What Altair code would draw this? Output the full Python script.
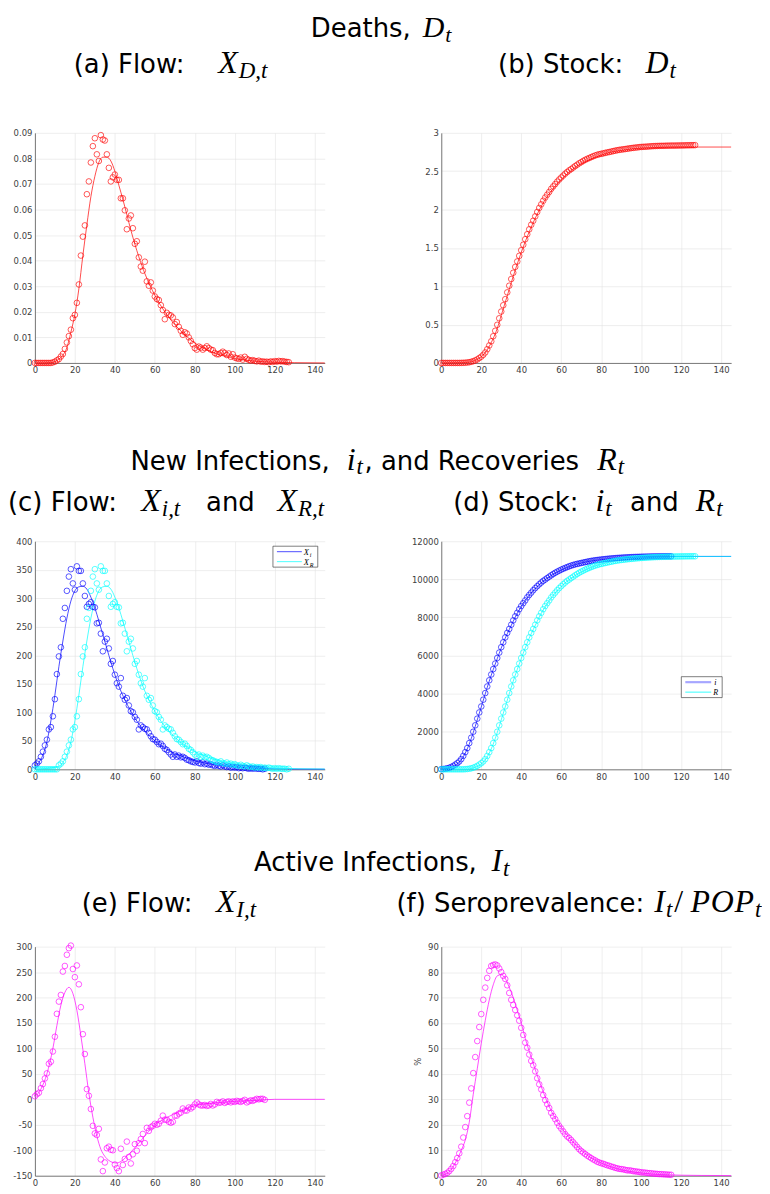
import altair as alt
import pandas as pd

# ---------------- data ----------------
# (a) deaths flow X_D,t  (days 0..127)
death_flow = [0, 0, 0, 0, 0, 0, 0, 0, 0, 0.0002,
              0.0005, 0.001, 0.0015, 0.0025, 0.0035, 0.0055, 0.008, 0.0105, 0.013, 0.0175,
              0.0188, 0.0235, 0.0307, 0.042, 0.0494, 0.0538, 0.066, 0.071, 0.0784, 0.0848,
              0.0879, 0.0816, 0.079, 0.0891, 0.0874, 0.087, 0.0816, 0.0763, 0.071, 0.0726,
              0.0737, 0.0716, 0.0716, 0.0644, 0.0644, 0.0597, 0.0523, 0.0565, 0.0577, 0.0527,
              0.0466, 0.0476, 0.0413, 0.0377, 0.0361, 0.0396, 0.0319, 0.0302, 0.0315, 0.0283,
              0.026, 0.025, 0.0246, 0.0226, 0.0207, 0.0171, 0.0196, 0.0188, 0.0186, 0.0178,
              0.0152, 0.016, 0.0141, 0.0126, 0.011, 0.012, 0.0115, 0.01, 0.0086, 0.0073,
              0.0058, 0.0052, 0.0064, 0.006, 0.0052, 0.0058, 0.0065, 0.0058, 0.0052, 0.005,
              0.0039, 0.0034, 0.0034, 0.0039, 0.0044, 0.0039, 0.0031, 0.0037, 0.0024, 0.0034,
              0.0021, 0.0018, 0.0016, 0.0021, 0.0013, 0.0024, 0.0016, 0.0012, 0.0009, 0.0011,
              0.0008, 0.0006, 0.0009, 0.0005, 0.0006, 0.0004, 0.0005, 0.0003, 0.0006, 0.0004,
              0.0007, 0.0005, 0.0008, 0.0006, 0.0007, 0.0005, 0.0004, 0.0003]
death_fit_days = [0, 5, 8, 10, 12, 14, 16, 18, 20, 22, 24, 26, 28, 30, 32, 34, 36, 38, 40, 42,
                  44, 46, 48, 50, 52, 55, 60, 65, 70, 75, 80, 85, 90, 95, 100, 110, 120, 130, 145]
death_fit = [0, 0, 0.0001, 0.0005, 0.0015, 0.003, 0.006, 0.012, 0.019, 0.029, 0.042, 0.054,
             0.065, 0.073, 0.0785, 0.0805, 0.0805, 0.079, 0.075, 0.0695, 0.064, 0.058, 0.052,
             0.0465, 0.0415, 0.035, 0.0265, 0.020, 0.015, 0.011, 0.0078, 0.0055, 0.0038,
             0.0026, 0.0017, 0.0007, 0.0003, 0.0001, 0]

# (b) deaths stock D_t (days 0..127)
death_stock = [0, 0, 0, 0, 0, 0, 0, 0, 0, 0.000,
               0.001, 0.002, 0.003, 0.006, 0.009, 0.015, 0.023, 0.033, 0.046, 0.064,
               0.082, 0.106, 0.137, 0.179, 0.228, 0.282, 0.348, 0.419, 0.497, 0.582,
               0.670, 0.752, 0.831, 0.920, 1.007, 1.094, 1.176, 1.252, 1.323, 1.396,
               1.470, 1.541, 1.613, 1.678, 1.742, 1.802, 1.854, 1.911, 1.968, 2.021,
               2.068, 2.115, 2.157, 2.194, 2.230, 2.270, 2.302, 2.332, 2.364, 2.392,
               2.418, 2.443, 2.468, 2.490, 2.511, 2.528, 2.548, 2.567, 2.585, 2.603,
               2.618, 2.634, 2.648, 2.661, 2.672, 2.684, 2.695, 2.705, 2.714, 2.721,
               2.727, 2.732, 2.739, 2.745, 2.750, 2.756, 2.762, 2.768, 2.773, 2.778,
               2.782, 2.785, 2.789, 2.793, 2.797, 2.801, 2.804, 2.808, 2.810, 2.814,
               2.816, 2.818, 2.819, 2.821, 2.823, 2.825, 2.827, 2.828, 2.829, 2.830,
               2.831, 2.831, 2.832, 2.833, 2.833, 2.834, 2.834, 2.834, 2.835, 2.835,
               2.836, 2.836, 2.837, 2.838, 2.838, 2.839, 2.839, 2.840]
stock_fit_days = [0, 10, 14, 16, 18, 20, 22, 24, 26, 28, 30, 32, 34, 36, 38, 40, 42, 44, 46,
                  48, 50, 52, 55, 60, 65, 70, 75, 80, 85, 90, 95, 100, 110, 120, 145]
stock_fit = [0, 0.003, 0.010, 0.022, 0.045, 0.080, 0.135, 0.215, 0.32, 0.45, 0.62, 0.79,
             0.96, 1.13, 1.29, 1.44, 1.58, 1.71, 1.83, 1.94, 2.04, 2.13, 2.24, 2.39, 2.51,
             2.60, 2.66, 2.71, 2.75, 2.77, 2.79, 2.80, 2.81, 2.815, 2.815]

# (c) new infections flow X_i (days 0..115) and recoveries flow X_R (days 0..127)
inf_flow = [7, 10, 14, 22, 31, 42, 52, 70, 74, 93,
            123, 167, 198, 214, 264, 283, 313, 338, 351, 326,
            315, 356, 348, 348, 326, 304, 285, 290, 293, 285,
            284, 256, 257, 238, 207, 224, 229, 212, 185, 190,
            166, 151, 145, 160, 129, 122, 125, 112, 102, 100,
            92, 87, 70, 77, 74, 71, 70, 64, 58, 53,
            52, 48, 44, 45, 41, 36, 34, 30, 26, 22,
            26, 22, 24, 21, 22, 20, 17, 16, 14, 13,
            12, 14, 11, 10, 12, 9, 10, 8, 9, 7,
            6, 8, 6, 5, 7, 5, 4, 5, 3, 4,
            3, 4, 2, 3, 2, 3, 2, 1, 2, 1,
            2, 1, 1, 1, 0, 1]
rec_flow = [0, 0, 0, 0, 0, 0, 0, 0, 0, 0,
            0, 0, 7, 10, 14, 22, 31, 42, 52, 70,
            74, 93, 123, 167, 198, 214, 264, 283, 313, 338,
            351, 326, 315, 356, 348, 348, 326, 304, 285, 290,
            293, 285, 284, 256, 257, 238, 207, 224, 229, 212,
            185, 190, 166, 151, 145, 160, 129, 122, 125, 112,
            102, 100, 92, 87, 70, 77, 74, 71, 70, 64,
            58, 53, 52, 48, 44, 45, 41, 36, 34, 30,
            26, 22, 26, 22, 24, 21, 22, 20, 17, 16,
            14, 13, 12, 14, 11, 10, 12, 9, 10, 8,
            9, 7, 6, 8, 6, 5, 7, 5, 4, 5,
            3, 4, 3, 4, 2, 3, 2, 3, 2, 1,
            2, 1, 2, 1, 1, 1, 0, 1]
inf_fit_days = [0, 2, 4, 6, 8, 10, 12, 14, 16, 18, 20, 22, 24, 26, 28, 30, 32, 34, 36, 38,
                40, 42, 45, 48, 50, 55, 60, 65, 70, 75, 80, 85, 90, 95, 100, 110, 120, 130, 145]
inf_fit = [5, 12, 25, 48, 85, 130, 180, 225, 265, 295, 313, 320, 321, 316, 302, 283, 260,
           236, 212, 188, 166, 146, 122, 102, 90, 67, 50, 37, 28, 21, 15, 11, 8, 6, 4, 2,
           1, 0.5, 0.2]
rec_fit_days = [0, 12, 14, 16, 18, 20, 22, 24, 26, 28, 30, 32, 34, 36, 38, 40, 42, 44, 46,
                48, 50, 52, 54, 57, 60, 62, 67, 72, 77, 82, 87, 92, 97, 102, 107, 112, 122,
                132, 145]
rec_fit = [0, 5, 12, 25, 48, 85, 130, 180, 225, 265, 295, 313, 320, 321, 316, 302, 283, 260,
           236, 212, 188, 166, 146, 122, 102, 90, 67, 50, 37, 28, 21, 15, 11, 8, 6, 4, 2,
           1, 0.5]

# (d) stocks i_t (days 0..115) and R_t (days 0..127)
inf_stock = [7, 17, 31, 53, 84, 126, 178, 248, 322, 415,
             538, 705, 903, 1117, 1381, 1664, 1977, 2315, 2666, 2992,
             3307, 3663, 4011, 4359, 4685, 4989, 5274, 5564, 5857, 6142,
             6426, 6682, 6939, 7177, 7384, 7608, 7837, 8049, 8234, 8424,
             8590, 8741, 8886, 9046, 9175, 9297, 9422, 9534, 9636, 9736,
             9828, 9915, 9985, 10062, 10136, 10207, 10277, 10341, 10399, 10452,
             10504, 10552, 10596, 10641, 10682, 10718, 10752, 10782, 10808, 10830,
             10856, 10878, 10902, 10923, 10945, 10965, 10982, 10998, 11012, 11025,
             11037, 11051, 11062, 11072, 11084, 11093, 11103, 11111, 11120, 11127,
             11133, 11141, 11147, 11152, 11159, 11164, 11168, 11173, 11176, 11180,
             11183, 11187, 11189, 11192, 11194, 11197, 11199, 11200, 11202, 11203,
             11205, 11206, 11207, 11208, 11208, 11209]
rec_stock = [0, 0, 0, 0, 0, 0, 0, 0, 0, 0,
             0, 0, 7, 17, 31, 53, 84, 126, 178, 248,
             322, 415, 538, 705, 903, 1117, 1381, 1664, 1977, 2315,
             2666, 2992, 3307, 3663, 4011, 4359, 4685, 4989, 5274, 5564,
             5857, 6142, 6426, 6682, 6939, 7177, 7384, 7608, 7837, 8049,
             8234, 8424, 8590, 8741, 8886, 9046, 9175, 9297, 9422, 9534,
             9636, 9736, 9828, 9915, 9985, 10062, 10136, 10207, 10277, 10341,
             10399, 10452, 10504, 10552, 10596, 10641, 10682, 10718, 10752, 10782,
             10808, 10830, 10856, 10878, 10902, 10923, 10945, 10965, 10982, 10998,
             11012, 11025, 11037, 11051, 11062, 11072, 11084, 11093, 11103, 11111,
             11120, 11127, 11133, 11141, 11147, 11152, 11159, 11164, 11168, 11173,
             11176, 11180, 11183, 11187, 11189, 11192, 11194, 11197, 11199, 11200,
             11202, 11203, 11205, 11206, 11207, 11208, 11208, 11209]
inf_stock_fit_days = [0, 5, 10, 12, 14, 16, 18, 20, 22, 24, 26, 28, 30, 32, 34, 36, 38, 40,
                      42, 45, 48, 50, 55, 60, 65, 70, 75, 80, 85, 90, 95, 100, 110, 145]
rec_stock_fit_days = [0, 12, 17, 22, 24, 26, 28, 30, 32, 34, 36, 38, 40, 42, 44, 46, 48, 50,
                      52, 54, 57, 60, 62, 67, 72, 77, 82, 87, 92, 97, 102, 107, 112, 122, 145]
inf_stock_fit = [0, 110, 500, 850, 1330, 1930, 2600, 3280, 3970, 4640, 5250, 5820, 6380,
                 6900, 7350, 7790, 8200, 8560, 8880, 9280, 9620, 9810, 10190, 10480, 10700,
                 10850, 10960, 11030, 11090, 11130, 11160, 11180, 11200, 11200]
rec_stock_fit = [0, 0, 110, 500, 850, 1330, 1930, 2600, 3280, 3970, 4640, 5250, 5820, 6380,
                 6900, 7350, 7790, 8200, 8560, 8880, 9280, 9620, 9810, 10190, 10480, 10700,
                 10850, 10960, 11030, 11090, 11130, 11160, 11180, 11200, 11200]

# (e) active infections flow X_I (days 0..115)
active_flow = [6, 10, 13, 22, 30, 41, 51, 70, 74, 94,
               123, 168, 192, 205, 251, 262, 284, 297, 302, 256,
               240, 263, 226, 181, 128, 89, 20, 7, -19, -52,
               -67, -70, -58, -118, -141, -124, -96, -93, -99, -100,
               -128, -135, -141, -97, -129, -117, -83, -113, -126, -108,
               -88, -101, -86, -78, -68, -86, -56, -62, -55, -52,
               -48, -50, -48, -42, -32, -40, -40, -44, -46, -44,
               -32, -32, -28, -26, -18, -22, -22, -16, -18, -15,
               -10, -6, -10, -12, -12, -11, -13, -12, -9, -12,
               -10, -5, -7, -6, -4, -7, -5, -4, -6, -4,
               -5, -3, -4, -5, -3, -1, -6, -4, -2, -3,
               -1, 1, 0, 1, 1, -1]
active_fit_days = [0, 3, 6, 9, 11, 13, 15, 17, 19, 21, 23, 25, 27, 29, 31, 33, 35, 37, 39,
                   41, 43, 46, 50, 55, 60, 65, 70, 75, 80, 85, 90, 100, 110, 120, 145]
active_fit = [5, 20, 50, 100, 145, 185, 210, 220, 208, 175, 125, 70, 12, -35, -72, -98,
              -112, -120, -124, -125, -122, -112, -95, -72, -50, -38, -28, -20, -12, -9, -7,
              -4, -2, 0, 0]

# (f) seroprevalence I_t / POP_t in % (days 0..115)
sero = [0.1, 0.4, 0.7, 1.1, 1.8, 2.7, 3.8, 5.3, 6.9, 8.8,
        11.4, 15.0, 19.1, 23.4, 28.7, 34.3, 40.3, 46.6, 52.9, 58.4,
        63.5, 69.1, 73.9, 77.7, 80.5, 82.4, 82.8, 83.0, 82.6, 81.4,
        80.0, 78.5, 77.3, 74.8, 71.8, 69.1, 67.1, 65.1, 63.0, 60.9,
        58.1, 55.3, 52.3, 50.3, 47.6, 45.1, 43.4, 41.0, 38.3, 35.9,
        33.9, 31.7, 29.7, 28.1, 26.6, 24.7, 23.4, 22.2, 20.8, 19.5,
        18.5, 17.4, 16.3, 15.4, 14.8, 14.0, 13.1, 12.2, 11.3, 10.4,
        9.7, 9.1, 8.5, 7.9, 7.4, 6.9, 6.4, 6.0, 5.5, 5.2,
        4.9, 4.7, 4.4, 4.1, 3.9, 3.6, 3.4, 3.1, 2.9, 2.7,
        2.6, 2.5, 2.3, 2.1, 2.1, 2.0, 1.8, 1.7, 1.6, 1.5,
        1.3, 1.3, 1.2, 1.1, 1.0, 0.96, 0.85, 0.77, 0.72, 0.64,
        0.62, 0.55, 0.51, 0.45, 0.40, 0.36]
sero_fit_days = [0, 5, 10, 12, 14, 16, 18, 20, 22, 24, 26, 28, 30, 32, 34, 36, 38, 40, 42,
                 45, 50, 55, 60, 65, 70, 75, 80, 85, 90, 95, 100, 105, 110, 115, 120, 130, 145]
sero_fit = [0, 2.5, 10, 14, 21, 32, 42, 52, 61, 69, 75, 78.5, 79, 77.5, 74, 70, 65, 60, 54,
            46.5, 35, 25.5, 19, 14, 10, 7, 5, 3.5, 2.4, 1.6, 1.1, 0.7, 0.45, 0.3, 0.2, 0.1,
            0.05]

x_ticks = [0, 20, 40, 60, 80, 100, 120, 140]
y_ticks_a = [0, 0.01, 0.02, 0.03, 0.04, 0.05, 0.06, 0.07, 0.08, 0.09]
y_ticks_b = [0, 0.5, 1, 1.5, 2, 2.5, 3]
y_ticks_c = [0, 50, 100, 150, 200, 250, 300, 350, 400]
y_ticks_d = [0, 2000, 4000, 6000, 8000, 10000, 12000]
y_ticks_e = [-150, -100, -50, 0, 50, 100, 150, 200, 250, 300]
y_ticks_f = [0, 10, 20, 30, 40, 50, 60, 70, 80, 90]

# title pieces: (text, kind)  S = sans, M = math italic, B = subscript, U = upright math
title_row1 = [("Deaths, ", "S"), ("D", "M"), ("t", "B")]
title_a = [("(a) Flow: ", "S"), ("X", "M"), ("D,t", "B")]
title_b = [("(b) Stock: ", "S"), ("D", "M"), ("t", "B")]
title_row2 = [("New Infections, ", "S"), ("i", "M"), ("t", "B"), (", and Recoveries ", "S"),
              ("R", "M"), ("t", "B")]
title_c = [("(c) Flow: ", "S"), ("X", "M"), ("i,t", "B"), (" and ", "S"), ("X", "M"), ("R,t", "B")]
title_d = [("(d) Stock: ", "S"), ("i", "M"), ("t", "B"), (" and ", "S"), ("R", "M"), ("t", "B")]
title_row3 = [("Active Infections, ", "S"), ("I", "M"), ("t", "B")]
title_e = [("(e) Flow: ", "S"), ("X", "M"), ("I,t", "B")]
title_f = [("(f) Seroprevalence: ", "S"), ("I", "M"), ("t", "B"), ("/", "U"), ("P", "M"),
           ("O", "M"), ("P", "M"), ("t", "B")]

# ---------------- styling / layout helpers ----------------
RED, BLUE, CYAN, MAG = "#ff0000", "#0000ff", "#00ffff", "#ff00ff"
PW, SPACE_X = 291, 117
H1, H2, H3 = 231, 229, 230
LX, RX = 35, 443
TOP1, TOP2, TOP3 = 131, 541, 948

ONE = alt.Data(values=[{"k": 1}])

SANS_W = {' ': .318, '(': .39, ')': .39, ',': .318, ':': .337, 'A': .684, 'D': .77, 'F': .575,
          'I': .295, 'N': .748, 'R': .695, 'S': .635, 'a': .613, 'b': .635, 'c': .55, 'd': .635,
          'e': .615, 'f': .352, 'h': .634, 'i': .278, 'k': .579, 'l': .278, 'n': .634, 'o': .612,
          'p': .635, 'r': .411, 's': .521, 't': .392, 'v': .592, 'w': .818}
MATH_W = {'X': .828, 'D': .828, 'R': .759, 'I': .44, 'P': .642, 'O': .763, 'i': .345,
          't': .361, ',': .278, '/': .5}
GLYPH_W = {'X': .611, 'D': .722, 'R': .611, 'I': .333, 'P': .611, 'O': .722, 'i': .278,
           't': .278, '/': .278}
KIND = {
    "S": dict(font="DejaVu Sans", size=26, style="normal", dy=0, w=SANS_W, adv=26),
    "M": dict(font="Liberation Serif", size=32, style="italic", dy=0, w=MATH_W, adv=31.5),
    "B": dict(font="Liberation Serif", size=23, style="italic", dy=5, w=MATH_W, adv=22),
    "U": dict(font="Liberation Serif", size=32, style="normal", dy=0, w=MATH_W, adv=31.5),
}


def title_layers(pieces, start, end, base, ox, oy, msize=None):
    def size_of(kd):
        if msize is not None and kd in ("M", "U"):
            return msize
        if msize is not None and kd == "B":
            return round(msize * 0.72)
        return KIND[kd]["size"]

    widths = []
    for i, (t, kd) in enumerate(pieces):
        k = KIND[kd]
        nxt = pieces[i + 1][1] if i + 1 < len(pieces) else None
        if kd == "M" and nxt == "B":
            widths.append(GLYPH_W.get(t, .6) * size_of(kd) + 1)   # subscript hugs the glyph
        else:
            widths.append(sum(k["w"].get(c, 0.6) for c in t) * k["adv"])
    # spread the spare width over the word gaps (not before subscripts, commas or
    # between letters of one math word)
    stretchable = []
    for i, (t, kd) in enumerate(pieces):
        if i == 0 or kd == "B" or t.startswith(","):
            continue
        if kd == "M" and pieces[i - 1][1] == "M":
            continue
        stretchable.append(i)
    extra = (end - start) - sum(widths)
    gap = extra / max(len(stretchable), 1)
    out, x = [], float(start)
    for i, ((text, kind), w) in enumerate(zip(pieces, widths)):
        k = KIND[kind]
        if i in stretchable:
            x += gap
        lead = len(text) - len(text.lstrip(" "))
        xx = x + lead * SANS_W[" "] * k["adv"]
        out.append(
            alt.Chart(ONE).mark_text(text=text.strip(), font=k["font"], fontSize=size_of(kind),
                                     fontStyle=k["style"], align="left", baseline="alphabetic",
                                     color="#000000")
            .encode(x=alt.value(xx - ox), y=alt.value(base + k["dy"] - oy))
        )
        x += w
    return out


def xenc():
    return alt.X("day:Q", scale=alt.Scale(domain=[0, 145], nice=False, zero=False),
                 axis=alt.Axis(values=x_ticks, title=None, grid=True, labelFlush=False,
                               labelOverlap=False))


def yenc(dom, ticks, fmt, title=None, minus_fix=False):
    ax = dict(values=ticks, title=title, grid=True, format=fmt, labelFlush=False,
              labelOverlap=False, titlePadding=5)
    if minus_fix:
        ax["labelExpr"] = "replace(datum.label, '\u2212', '-')"
    return alt.Y("v:Q", scale=alt.Scale(domain=dom, nice=False, zero=False), axis=alt.Axis(**ax))


def series(days, vals, color, dom, ticks, fmt, kind, title=None, minus_fix=False, width=0.7):
    df = pd.DataFrame({"day": days, "v": vals})
    if kind == "line":
        m = alt.Chart(df).mark_line(color=color, strokeWidth=width, interpolate="monotone")
    else:
        m = alt.Chart(df).mark_point(shape="circle", filled=False, size=32, strokeWidth=0.65,
                                     color=color, opacity=1)
    return m.encode(x=xenc(), y=yenc(dom, ticks, fmt, title, minus_fix))


def txt(text, px, py, ox, oy, size, font="Liberation Serif", style="italic"):
    return alt.Chart(ONE).mark_text(text=text, font=font, fontSize=size, fontStyle=style,
                                    align="left", baseline="alphabetic", color="#000000") \
        .encode(x=alt.value(px - ox), y=alt.value(py - oy))


def rect(x1, y1, x2, y2, ox, oy, opacity=1.0):
    return alt.Chart(ONE).mark_rect(fill="#ffffff", stroke="#262626", strokeWidth=0.6,
                                    opacity=opacity).encode(
        x=alt.value(x1 - ox), x2=alt.value(x2 - ox), y=alt.value(y1 - oy), y2=alt.value(y2 - oy))


def rule(x1, x2, y, ox, oy, color, width, opacity=1.0):
    return alt.Chart(ONE).mark_rule(color=color, strokeWidth=width, opacity=opacity).encode(
        x=alt.value(x1 - ox), x2=alt.value(x2 - ox), y=alt.value(y - oy))


days_127 = list(range(0, 128))
days_115 = list(range(0, 116))

# ---------------- panels ----------------
dA, tA, fA = [0, 0.09], y_ticks_a, ".2~f"
pa = alt.layer(
    rect(0, -10, 1, -9, LX, TOP1, opacity=0),   # invisible anchor for the page origin
    series(death_fit_days, death_fit, RED, dA, tA, fA, "line"),
    series(days_127, death_flow, RED, dA, tA, fA, "point"),
    *title_layers(title_row1, 312, 455, 35, LX, TOP1, msize=30),
    *title_layers(title_a, 74, 272, 71, LX, TOP1),
).properties(width=PW, height=H1)

dB, tB, fB = [0, 3], y_ticks_b, ".1~f"
pb = alt.layer(
    series(stock_fit_days, stock_fit, RED, dB, tB, fB, "line"),
    series(days_127, death_stock, RED, dB, tB, fB, "point"),
    *title_layers(title_b, 500, 680, 71, RX, TOP1),
).properties(width=PW, height=H1)

dC, tC = [0, 400], y_ticks_c
pc = alt.layer(
    series(inf_fit_days, inf_fit, BLUE, dC, tC, "d", "line"),
    series(rec_fit_days, rec_fit, CYAN, dC, tC, "d", "line"),
    series(days_115, inf_flow, BLUE, dC, tC, "d", "point"),
    series(days_127, rec_flow, CYAN, dC, tC, "d", "point"),
    rect(274, 546, 319, 567, LX, TOP2),
    rule(278, 303, 551.5, LX, TOP2, BLUE, 0.7),
    rule(278, 303, 561.5, LX, TOP2, CYAN, 0.7),
    txt("X", 305, 554.5, LX, TOP2, 8.5),
    txt("i", 311, 556.5, LX, TOP2, 6),
    txt("X", 305, 564.5, LX, TOP2, 8.5),
    txt("R", 311, 566.5, LX, TOP2, 6),
    *title_layers(title_row2, 131, 628, 469, LX, TOP2),
    *title_layers(title_c, 8, 330, 511, LX, TOP2),
).properties(width=PW, height=H2)

dD, tD = [0, 12000], y_ticks_d
pd_ = alt.layer(
    series(inf_stock_fit_days, inf_stock_fit, BLUE, dD, tD, "d", "line"),
    series(rec_stock_fit_days, rec_stock_fit, CYAN, dD, tD, "d", "line"),
    series(days_115, inf_stock, BLUE, dD, tD, "d", "point"),
    series(days_127, rec_stock, CYAN, dD, tD, "d", "point"),
    rect(684, 677, 725, 698, RX, TOP2),
    rule(688, 714, 682.5, RX, TOP2, BLUE, 2.2, 0.35),
    rule(688, 714, 692.5, RX, TOP2, CYAN, 0.8),
    txt("i", 717, 685.5, RX, TOP2, 8),
    txt("R", 716, 695.5, RX, TOP2, 8),
    *title_layers(title_d, 455, 727, 511, RX, TOP2),
).properties(width=PW, height=H2)

dE, tE = [-150, 300], y_ticks_e
pe = alt.layer(
    series(active_fit_days, active_fit, MAG, dE, tE, "d", "line", minus_fix=True),
    series(days_115, active_flow, MAG, dE, tE, "d", "point", minus_fix=True),
    *title_layers(title_row3, 255, 513, 872, LX, TOP3),
    *title_layers(title_e, 82, 261, 913, LX, TOP3),
).properties(width=PW, height=H3)

dF, tF = [0, 90], y_ticks_f
pf = alt.layer(
    series(sero_fit_days, sero_fit, MAG, dF, tF, "d", "line", title="%"),
    series(days_115, sero, MAG, dF, tF, "d", "point", title="%"),
    *title_layers(title_f, 398, 766, 913, RX, TOP3),
).properties(width=PW, height=H3)

row1 = alt.hconcat(pa, pb, spacing=SPACE_X, bounds="flush")
row2 = alt.hconcat(pc, pd_, spacing=SPACE_X, bounds="flush")
row3 = alt.hconcat(pe, pf, spacing=SPACE_X, bounds="flush")

top_two = alt.vconcat(row1, row2, spacing=TOP2 - TOP1, bounds="flush")
chart = alt.vconcat(top_two, row3, spacing=TOP3 - TOP1, bounds="flush").properties(
    padding={"left": -8, "top": -18, "right": 0, "bottom": 0}
).configure_axis(
    labelFont="DejaVu Sans", labelFontSize=8.5, labelColor="#404040",
    domainColor="#262626", domainWidth=0.6, gridColor="#e3e3e3", gridWidth=0.6,
    ticks=False, labelPadding=3, titleFont="DejaVu Sans", titleFontSize=8.5,
    titleFontWeight="normal", titleColor="#404040"
).configure_view(stroke=None)

chart.save("out.html", embed_options={"renderer": "svg", "actions": False})
